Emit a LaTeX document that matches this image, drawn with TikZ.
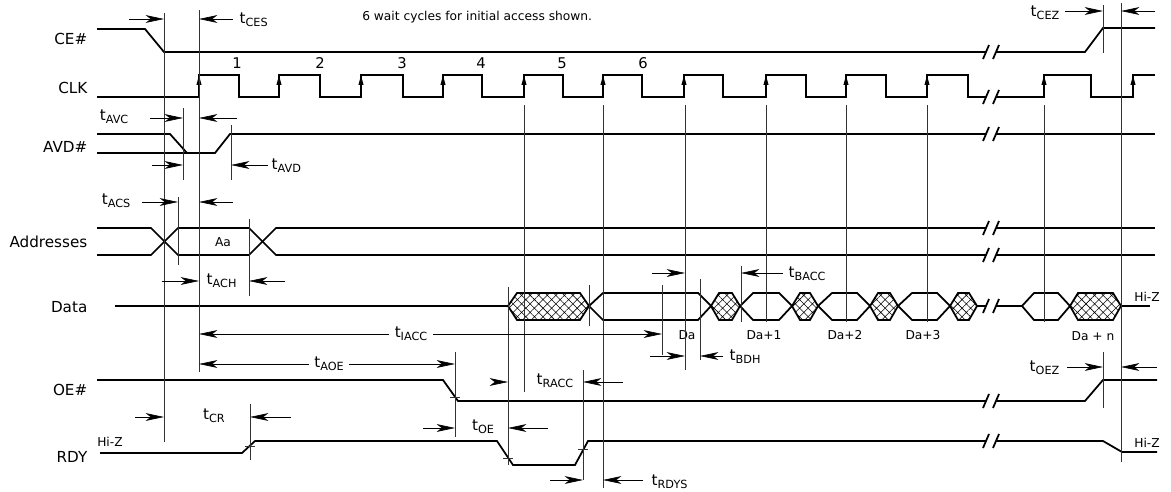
\documentclass[tikz,border=0pt]{standalone}
\usepackage{fontspec}
\setmainfont{DejaVu Sans}
\usetikzlibrary{arrows.meta,patterns.meta}

\newcommand{\tsub}[2]{#1\raisebox{-0.35ex}{\fontsize{8}{9}\selectfont #2}}

\begin{document}
\begin{tikzpicture}[x=0.025cm,y=-0.025cm,
  sig/.style={line width=1.25pt},
  refl/.style={line width=0.45pt,black!80},
  dim/.style={line width=0.45pt,-{Stealth[length=13pt,width=5.5pt,inset=3.5pt]}},
  dimboth/.style={line width=0.45pt,{Stealth[length=13pt,width=5.5pt,inset=3.5pt]}-{Stealth[length=13pt,width=5.5pt,inset=3.5pt]}},
  signame/.style={left,inner sep=1pt,font=\fontsize{10.8}{12}\selectfont},
  tlab/.style={inner sep=1pt,font=\fontsize{10.8}{12}\selectfont},
  small/.style={inner sep=0pt,font=\fontsize{8.7}{10}\selectfont},
  hatch/.style={pattern={Hatch[angle=45,distance=4.3pt,line width=0.4pt]}}]
\useasboundingbox (0,0) rectangle (1171,492);

% Signal names
\node[signame] (ce) at (89,39) {CE\#};
\node[signame] (clk) at (89,88) {CLK};
\node[signame] (avd) at (89,147) {AVD\#};
\node[signame] (addr) at (89,242) {Addresses};
\node[signame] (data) at (89,307) {Data};
\node[signame] (oe) at (89,390) {OE\#};
\node[signame] (rdy) at (89,457) {RDY};

% Note
\node[small,right] (note) at (362,17) {6 wait cycles for initial access shown.};

% CE#
\draw[sig] (97,29) -- (145,29) -- (164,52) -- (986,52);
\draw[sig] (996,52) -- (1085,52) -- (1103,28) -- (1155,28);

% CLK
\draw[sig] (97,97) foreach \r/\f in {199/239,279/320,361/403,443/482,524/563,603/642,684/723,766/806,846/886,927/968}
  { -- (\r,97) -- (\r,75) -- (\f,75) -- (\f,97) } -- (986,97);
\draw[sig] (996,97) -- (1044,97) -- (1044,75) -- (1091,75) -- (1091,97) -- (1133,97) -- (1133,75) -- (1155,75);
\foreach \r in {199,279,361,443,524,603,684,766,846,927,1044,1133}
  \fill (\r-2.6,85) -- (\r,75.5) -- (\r+2.6,85) -- cycle;
\foreach \n/\x in {1/237,2/320,3/402,4/481,5/562,6/643}
  \node[inner sep=0pt,font=\fontsize{10.5}{12}\selectfont] (cyc\n) at (\x,63) {\n};

% AVD#
\draw[sig] (97,134) -- (170,134) -- (187,153);
\draw[sig] (97,153) -- (215,153) -- (230,134) -- (986,134);
\draw[sig] (996,134) -- (1155,134);

% Addresses
\draw[sig] (97,228) -- (151,228) -- (178,255) -- (249,255) -- (276,228) -- (986,228);
\draw[sig] (97,255) -- (151,255) -- (178,228) -- (249,228) -- (276,255) -- (986,255);
\draw[sig] (996,228) -- (1155,228) (996,255) -- (1155,255);
\node[small] (aa) at (223,242) {Aa};

% Data
\draw[sig] (115,306) -- (508,306) (977,306) -- (986,306) (996,306) -- (1022,306) (1121,306) -- (1150,306);
\foreach \a/\b/\c/\d in {589/603/698/711,740/753/779/792,818/832/857/870,898/912/937/950,1022/1034/1058/1070}
  \draw[sig] (\a,306) -- (\b,293) -- (\c,293) -- (\d,306) -- (\c,320) -- (\b,320) -- cycle;
\foreach \a/\b/\c/\d in {508/517/580/589,711/719/732/740,792/800/810/818,870/878/890/898,950/958/969/977,1070/1078/1113/1121}
  \draw[sig,hatch] (\a,306) -- (\b,293) -- (\c,293) -- (\d,306) -- (\c,320) -- (\b,320) -- cycle;
\node[small] (da0) at (687,335) {Da};
\node[small] (da1) at (764,335) {Da+1};
\node[small] (da2) at (845,335) {Da+2};
\node[small] (da3) at (923,335) {Da+3};
\node[small] (dan) at (1093,336) {Da + n};
\node[small,left] (hizd) at (1160,297) {Hi-Z};

% OE#
\draw[sig] (97,380) -- (443,380) -- (458,401) -- (986,401);
\draw[sig] (996,401) -- (1085,401) -- (1103,380) -- (1157,380);

% RDY
\draw[sig] (100,453) -- (242,453) -- (255,441) -- (497,441) -- (513,465) -- (575,465) -- (588,441) -- (986,441);
\draw[sig] (996,441) -- (1103,441) -- (1122,452) -- (1157,452);
\node[small,right] (hizl) at (97,442) {Hi-Z};
\node[small,left] (hizr) at (1160,443) {Hi-Z};

% Breaks
\foreach \y in {52,97,134,228,255,306,401,441}
  \draw[sig] (983,\y+7) -- (989,\y-7) (993,\y+7) -- (999,\y-7);

% Reference lines
\draw[refl] (164,13) -- (164,442);
\draw[refl] (199,10) -- (199,372);
\draw[refl] (183,108) -- (183,180);
\draw[refl] (231,125) -- (231,180);
\draw[refl] (178,197) -- (178,265);
\draw[refl] (249,219) -- (249,296);
\draw[refl] (250,404) -- (250,460);
\foreach \x/\y in {524/392,603/488,685/370,766/322,846/322,927/322,1044/322}
  \draw[refl] (\x,105) -- (\x,\y);
\draw[refl] (1121,3) -- (1121,462);
\draw[refl] (1103,5) -- (1103,53);
\draw[refl] (1103,352) -- (1103,408);
\draw[refl] (662,285) -- (662,355);
\draw[refl] (700,279) -- (700,360);
\draw[refl] (741,266) -- (741,322);
\draw[refl] (508,287) -- (508,465);
\draw[refl] (589,285) -- (589,326);
\draw[refl] (455,352) -- (455,437);
\draw[refl] (583,370) -- (583,480);
\foreach \x/\y in {455/397,508/458,583/449,250/446}
  \draw[refl] (\x-5,\y) -- (\x+5,\y);

% Timing arrows
\draw[dim] (129,19) -- (164,19);
\draw[dim] (233,19) -- (199,19);
\node[tlab,right] (tces) at (238,20) {\tsub{t}{CES}};

\draw[dim] (150,118) -- (183,118);
\draw[dim] (237,118) -- (199,118);
\node[tlab,left] (tavc) at (130,117) {\tsub{t}{AVC}};
\draw[dim] (152,165) -- (183,165);
\draw[dim] (268,165) -- (231,165);
\node[tlab,right] (tavd) at (270,166) {\tsub{t}{AVD}};

\draw[dim] (142,202) -- (178,202);
\draw[dim] (233,202) -- (199,202);
\node[tlab,left] (tacs) at (132,201) {\tsub{t}{ACS}};
\draw[dim] (162,281) -- (199,281);
\draw[dim] (285,281) -- (249,281);
\node[tlab,right] (tach) at (205,281) {\tsub{t}{ACH}};

\draw[dimboth] (199,334) -- (662,334);
\node[tlab,fill=white,inner xsep=4pt] (tiacc) at (411,334) {\tsub{t}{IACC}};
\draw[dimboth] (199,364) -- (455,364);
\node[tlab,fill=white,inner xsep=4pt] (taoe) at (329,364) {\tsub{t}{AOE}};

\draw[dim] (652,273) -- (685,273);
\draw[dim] (783,273) -- (741,273);
\node[tlab,right] (tbacc) at (787,274) {\tsub{t}{BACC}};
\draw[dim] (650,356) -- (685,356);
\draw[dim] (723,356) -- (700,356);
\node[tlab,right] (tbdh) at (728,357) {\tsub{t}{BDH}};

\draw[dim] (495,382) -- (508,382);
\draw[dim] (623,382) -- (583,382);
\node[tlab] (tracc) at (555,381) {\tsub{t}{RACC}};
\draw[dim] (423,428) -- (455,428);
\draw[dim] (548,428) -- (508,428);
\node[tlab] (toe) at (483,427) {\tsub{t}{OE}};
\draw[dim] (550,480) -- (583,480);
\draw[dim] (643,480) -- (603,480);
\node[tlab,right] (trdys) at (650,482) {\tsub{t}{RDYS}};

\draw[dim] (135,417) -- (164,417);
\draw[dim] (291,417) -- (250,417);
\node[tlab] (tcr) at (214,416) {\tsub{t}{CR}};

\draw[dim] (1065,11) -- (1103,11);
\draw[dim] (1155,11) -- (1121,11);
\node[tlab,left] (tcez) at (1061,13) {\tsub{t}{CEZ}};
\draw[dim] (1067,367) -- (1103,367);
\draw[dim] (1157,367) -- (1121,367);
\node[tlab,left] (toez) at (1061,368) {\tsub{t}{OEZ}};
\end{tikzpicture}
\end{document}
